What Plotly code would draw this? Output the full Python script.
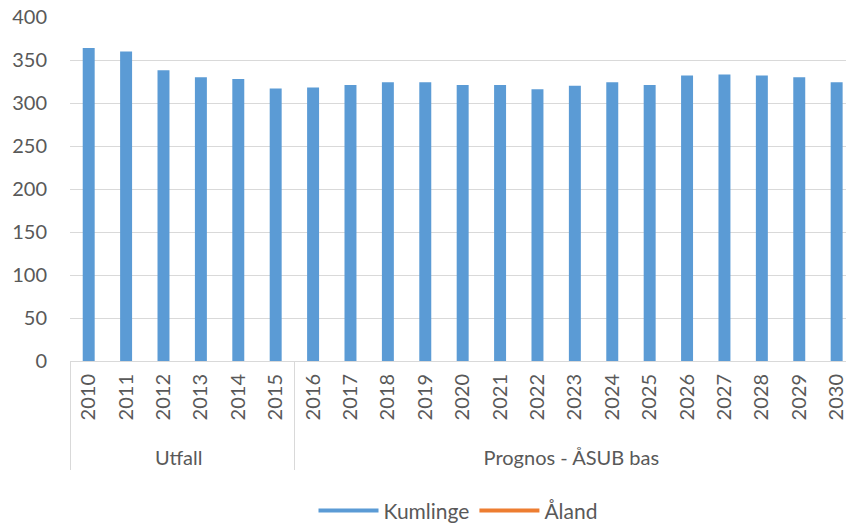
import plotly.graph_objects as go

years = [str(y) for y in range(2010, 2031)]
groups = ["Utfall"] * 6 + ["Prognos - ÅSUB bas"] * 15
kumlinge = [364, 360, 338, 330, 328, 317, 318, 321, 324, 324, 321,
            321, 316, 320, 324, 321, 332, 333, 332, 330, 324]

font = "Lato, Carlito, Calibri, sans-serif"
grey = "#595959"

# leading no-break spaces push the group labels a little lower
year_labels = ["\u00a0\u00a0" + y for y in years]
x = [groups, year_labels]

fig = go.Figure()
fig.add_trace(go.Bar(x=x, y=kumlinge, marker_color="#5B9BD5",
                     marker_line_width=0, showlegend=False, name="Kumlinge"))
fig.add_trace(go.Scatter(x=x, y=[None] * len(years), mode="lines",
                         name="Kumlinge", line=dict(color="#5B9BD5", width=4)))
fig.add_trace(go.Scatter(x=x, y=[None] * len(years), mode="lines",
                         name="Åland", line=dict(color="#ED7D31", width=4)))

fig.update_layout(
    width=846, height=523,
    margin=dict(l=70, r=0, t=17, b=162),
    plot_bgcolor="white", paper_bgcolor="white",
    font=dict(family=font, size=20, color=grey),
    bargap=0.68,
    legend=dict(orientation="h", x=0.5, xanchor="center",
                yref="container", y=0.023, yanchor="middle",
                font=dict(size=21, color=grey), itemwidth=60),
)
fig.update_yaxes(range=[0, 400], dtick=50, gridcolor="#D9D9D9", gridwidth=1,
                 zeroline=False, showline=False, ticklabelstandoff=22,
                 ticklabeloverflow="allow",
                 automargin=False, tickfont=dict(size=20, color=grey))
fig.update_xaxes(type="multicategory", range=[-0.5, 20.25], tickangle=-90,
                 showline=True, linecolor="#D9D9D9", linewidth=1,
                 showdividers=True, dividercolor="#D9D9D9", dividerwidth=1,
                 ticklabelstandoff=4, ticklabeloverflow="allow",
                 automargin=False, tickfont=dict(size=20, color=grey), ticks="")

# drop the default page margin so the figure fills the window
fig.write_html("out.html", config={"displayModeBar": False},
               post_script="document.body.style.margin='0';")
